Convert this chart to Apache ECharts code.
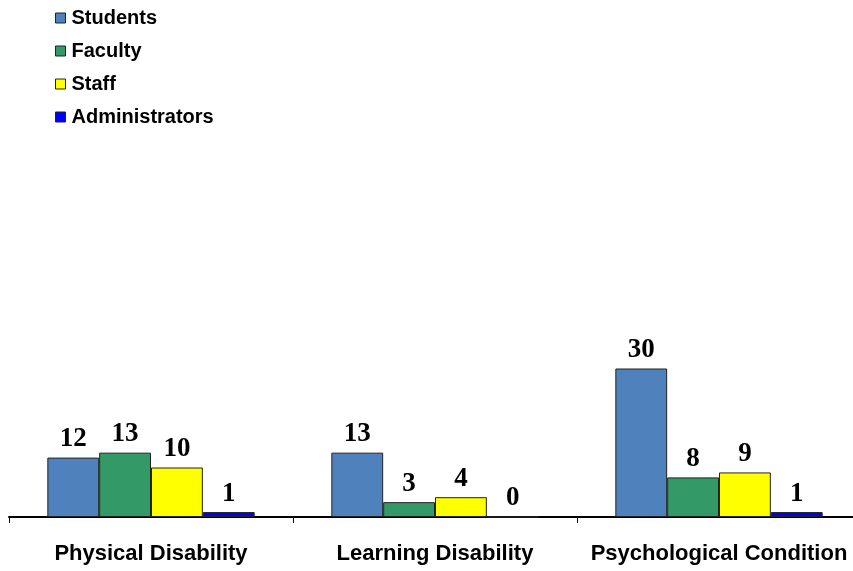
<!DOCTYPE html>
<html>
<head>
<meta charset="utf-8">
<script src="https://cdn.jsdelivr.net/npm/echarts@6/dist/echarts.min.js"></script>
<style>html,body{margin:0;padding:0;background:#fff;overflow:hidden;}#c{width:861px;height:571px;}</style>
</head>
<body>
<div id="c"></div>
<script>
const categories = ['Physical Disability', 'Learning Disability', 'Psychological Condition'];
const seriesNames = ['Students', 'Faculty', 'Staff', 'Administrators'];
const students = [12, 13, 30];
const faculty = [13, 3, 8];
const staff = [10, 4, 9];
const administrators = [1, 0, 1];
const colors = ['#4F81BD', '#339966', '#FFFF00', '#0000FF'];

const values = [students, faculty, staff, administrators];
const chart = echarts.init(document.getElementById('c'), null, {renderer: 'canvas'});
chart.setOption({
  animation: false,
  backgroundColor: '#fff',
  legend: {
    orient: 'vertical',
    left: 50,
    top: 3,
    itemWidth: 10,
    itemHeight: 10,
    itemGap: 13,
    icon: 'rect',
    itemStyle: {borderColor: '#222', borderWidth: 1},
    textStyle: {fontFamily: 'Liberation Sans', fontWeight: 'bold', fontSize: 20, color: '#000', lineHeight: 20, padding: [0, 0, 0, 1]},
    data: seriesNames
  },
  grid: {left: 9, right: 0, top: 220, bottom: 54, containLabel: false},
  xAxis: {
    type: 'category',
    data: categories,
    axisLine: {lineStyle: {color: '#000', width: 2}},
    axisTick: {show: true, interval: 0, length: 6, lineStyle: {color: '#000', width: 1}},
    axisLabel: {interval: 0, hideOverlap: false, fontFamily: 'Liberation Sans', fontWeight: 'bold', fontSize: 22, color: '#000', margin: 26}
  },
  yAxis: {
    type: 'value', min: 0, max: 60,
    show: false,
    splitLine: {show: false}
  },
  series: seriesNames.map((n, i) => ({
    name: n,
    type: 'bar',
    data: values[i],
    barGap: '0%',
    barCategoryGap: '27%',
    itemStyle: {color: colors[i], borderColor: '#222', borderWidth: 1},
    label: {
      show: true, position: 'top', distance: 5,
      fontFamily: 'Liberation Serif', fontWeight: 'bold', fontSize: 27, color: '#000'
    }
  }))
});
</script>
</body>
</html>
